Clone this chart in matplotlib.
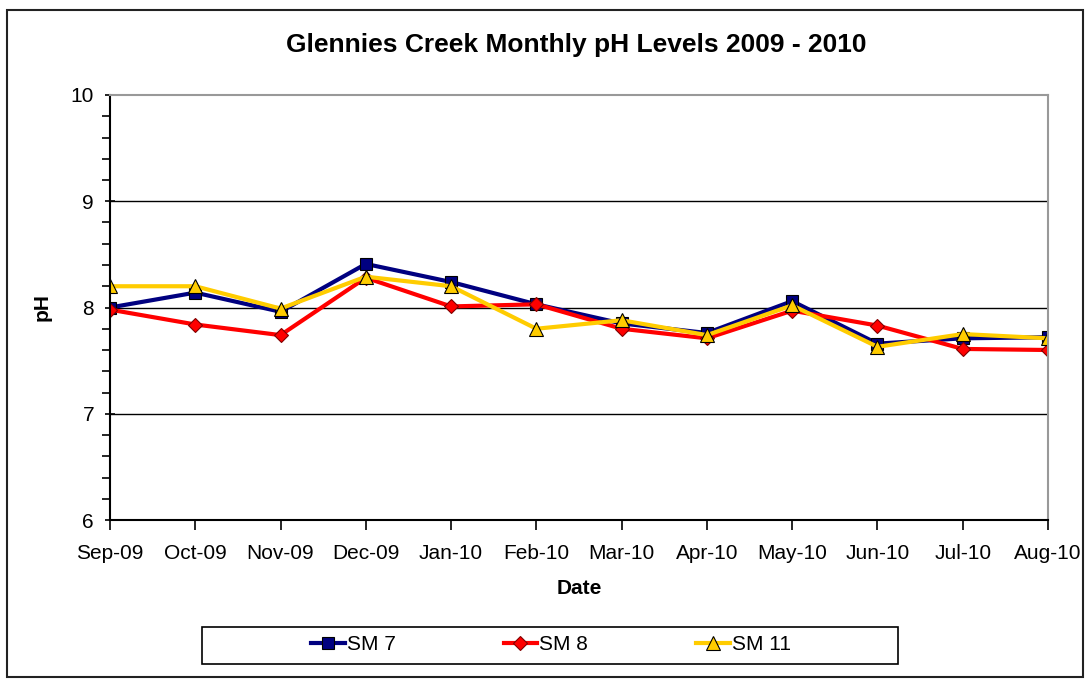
import matplotlib.pyplot as plt
from matplotlib.patches import Rectangle
from matplotlib.ticker import MultipleLocator

plt.rcParams['font.family'] = ['Liberation Sans', 'DejaVu Sans']

months = ["Sep-09", "Oct-09", "Nov-09", "Dec-09", "Jan-10", "Feb-10",
          "Mar-10", "Apr-10", "May-10", "Jun-10", "Jul-10", "Aug-10"]
sm7 = [8.00, 8.14, 7.96, 8.41, 8.24, 8.03, 7.85, 7.76, 8.06, 7.66, 7.71, 7.72]
sm8 = [7.98, 7.84, 7.74, 8.28, 8.01, 8.03, 7.80, 7.71, 7.97, 7.83, 7.61, 7.60]
sm11 = [8.20, 8.20, 7.99, 8.29, 8.20, 7.80, 7.88, 7.74, 8.02, 7.63, 7.75, 7.71]

fig = plt.figure(figsize=(10.85, 6.8), dpi=100)

# outer chart border
fig.patches.append(Rectangle((7 / 1085, 3 / 680), 1076 / 1085, 667 / 680,
                             transform=fig.transFigure, fill=False,
                             edgecolor='#222222', linewidth=1.5))
# legend box (wider than its entries, like the original)
fig.patches.append(Rectangle((202 / 1085, 16 / 680), 696 / 1085, 37 / 680,
                             transform=fig.transFigure, fill=False,
                             edgecolor='black', linewidth=1.2))

ax = fig.add_axes([110 / 1085, 160 / 680, 938 / 1085, 425 / 680])
x = list(range(len(months)))

ax.plot(x, sm7, color='#000080', linewidth=3, marker='s', markersize=8.5,
        markerfacecolor='#000080', markeredgecolor='black', markeredgewidth=0.8,
        label='SM 7')
ax.plot(x, sm8, color='#ff0000', linewidth=3, marker='D', markersize=7.5,
        markerfacecolor='#ff0000', markeredgecolor='#800000', markeredgewidth=0.8,
        label='SM 8')
ax.plot(x, sm11, color='#ffcc00', linewidth=3, marker='^', markersize=9.5,
        markerfacecolor='#ffcc00', markeredgecolor='black', markeredgewidth=0.8,
        label='SM 11')

ax.set_xlim(0, len(months) - 1)
ax.set_ylim(6, 10)
ax.set_xticks(x)
ax.set_xticklabels(months, fontsize=15)
ax.set_yticks([6, 7, 8, 9, 10])
ax.yaxis.set_minor_locator(MultipleLocator(0.2))
ax.tick_params(axis='y', which='major', labelsize=15, length=7, width=1.2,
               direction='inout', pad=8)
ax.tick_params(axis='y', which='minor', length=6, width=1.2, direction='out')
ax.tick_params(axis='x', length=7, width=1.2, direction='out', pad=10)

for v in [7, 8, 9]:
    ax.axhline(v, color='black', linewidth=1, zorder=0)

ax.spines['left'].set_linewidth(1.5)
ax.spines['bottom'].set_linewidth(1.5)
ax.spines['top'].set_color('#999999')
ax.spines['right'].set_color('#999999')
ax.spines['top'].set_linewidth(1.5)
ax.spines['right'].set_linewidth(1.5)

ax.set_xlabel('Date', fontsize=15, fontweight='bold', labelpad=12)
ax.set_ylabel('pH', fontsize=15, fontweight='bold', labelpad=14)
fig.text(576 / 1085, 1 - 45 / 680, 'Glennies Creek Monthly pH Levels 2009 - 2010',
         fontsize=19, fontweight='bold', ha='center', va='center')

leg = fig.legend(loc='center', bbox_to_anchor=(551 / 1085, 1 - 645 / 680),
                 ncol=3, fontsize=15, frameon=False,
                 handlelength=1.6, handletextpad=0.1, columnspacing=5.2)

fig.savefig('out.png', dpi=100)
